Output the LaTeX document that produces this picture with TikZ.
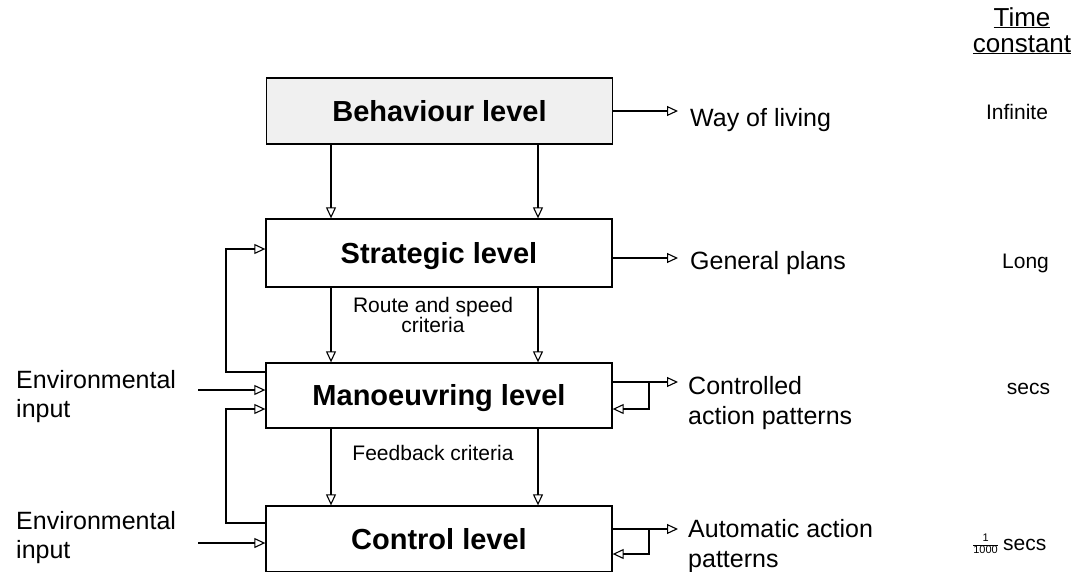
\documentclass[tikz,border=0pt]{standalone}
\usepackage{fontspec}
\setmainfont{Liberation Sans}
\usetikzlibrary{arrows.meta}
\begin{document}
\begin{tikzpicture}[x=1pt,y=-1pt,
  conn/.style={line width=1.2pt},
  arr/.style={conn,-{Triangle[open,length=11pt,width=10pt,line width=1.1pt]}},
  levelbox/.style={draw,line width=1.3pt,minimum width=346pt,inner sep=0pt,
    font=\fontsize{29}{34}\selectfont\bfseries,text height=20.8pt,text depth=0pt},
  note/.style={font=\fontsize{25}{28}\selectfont,inner sep=0pt},
  small/.style={font=\fontsize{21}{20}\selectfont,inner sep=0pt},
  tc/.style={font=\fontsize{21}{24}\selectfont,inner sep=0pt}]
\useasboundingbox (0,0) rectangle (1079,571);
\clip (0,0) rectangle (1079,571);

% the four levels
\node[levelbox,fill=black!6,minimum height=66pt] (beh) at (439.5,111) {Behaviour level};
\node[levelbox,minimum height=68pt] (str) at (439,253) {Strategic level};
\node[levelbox,minimum height=65pt] (man) at (439,395.5) {Manoeuvring level};
\node[levelbox,minimum height=66pt] (ctl) at (439,539) {Control level};

% outputs on the right (multi-line nodes are placed by their last baseline)
\node[note,anchor=base west] (wol) at (690,126) {Way of living};
\node[note,anchor=base west] (gp) at (690,269) {General plans};
\node[note,font=\fontsize{25}{30}\selectfont,anchor=base west,align=left] (cap) at (688,424) {Controlled\\action patterns};
\node[note,font=\fontsize{25}{30}\selectfont,anchor=base west,align=left] (aap) at (688,567) {Automatic action\\patterns};

% inputs on the left
\node[note,font=\fontsize{25}{29}\selectfont,anchor=base west,align=left] (env1) at (16,417) {Environmental\\input};
\node[note,font=\fontsize{25}{29}\selectfont,anchor=base west,align=left] (env2) at (16,558) {Environmental\\input};

% criteria between levels
\node[small,anchor=base,align=center] (rsc) at (433,332) {Route and speed\\criteria};
\node[small,anchor=base] (fbc) at (433,460) {Feedback criteria};

% time constant column
\node[font=\fontsize{26}{26}\selectfont,align=center,anchor=base,inner sep=0pt] (tch) at (1022,52) {\underline{Time}\\\underline{constant}};
\node[tc,anchor=base] (t1) at (1017,119) {Infinite};
\node[tc,anchor=base] (t2) at (1025.5,268) {Long};
\node[tc,anchor=base] (t3) at (1028.5,394) {secs};
\node[tc,anchor=base west] (t4) at (1003,550) {secs};
\node[font=\fontsize{11}{12}\selectfont,anchor=east,inner sep=0pt] (t4f) at (998,545)
  {\begin{tabular}{@{}c@{}}1\\\hline 1000\end{tabular}};

% helper columns
\coordinate (cL) at (331,0);
\coordinate (cR) at (538,0);
\coordinate (fbL) at (226,0);
\coordinate (fbR) at (649,0);
\coordinate (tipX) at (678,0);
\coordinate (envX) at (198,0);

% downward links between levels
\foreach \a/\b in {beh/str,str/man,man/ctl} {
  \draw[arr] (cL |- \a.south) -- (cL |- \b.north);
  \draw[arr] (cR |- \a.south) -- (cR |- \b.north);
}

% outputs
\draw[arr] (beh.east) -- (tipX |- beh.east);
\coordinate (sOut) at ([yshift=-5pt]str.east);
\draw[arr] (sOut) -- (tipX |- sOut);
\coordinate (mOut) at ([yshift=13.5pt]man.east);
\coordinate (mBack) at ([yshift=-13.5pt]man.east);
\draw[arr] (mOut) -- (tipX |- mOut);
\draw[arr] (fbR |- mOut) |- (mBack);
\coordinate (cOut) at ([yshift=10pt]ctl.east);
\coordinate (cBack) at ([yshift=-15pt]ctl.east);
\draw[arr] (cOut) -- (tipX |- cOut);
\draw[arr] (fbR |- cOut) |- (cBack);

% feedback and environmental inputs on the left
\coordinate (mUp) at ([yshift=23.5pt]man.west);
\coordinate (sIn) at ([yshift=4pt]str.west);
\draw[arr] (mUp) -| (fbL |- sIn) -- (sIn);
\coordinate (mEnv) at ([yshift=5.5pt]man.west);
\draw[arr] (envX |- mEnv) -- (mEnv);
\coordinate (cUp) at ([yshift=16pt]ctl.west);
\coordinate (mIn) at ([yshift=-13.5pt]man.west);
\draw[arr] (cUp) -| (fbL |- mIn) -- (mIn);
\coordinate (cEnv) at ([yshift=-4pt]ctl.west);
\draw[arr] (envX |- cEnv) -- (cEnv);
\end{tikzpicture}
\end{document}
